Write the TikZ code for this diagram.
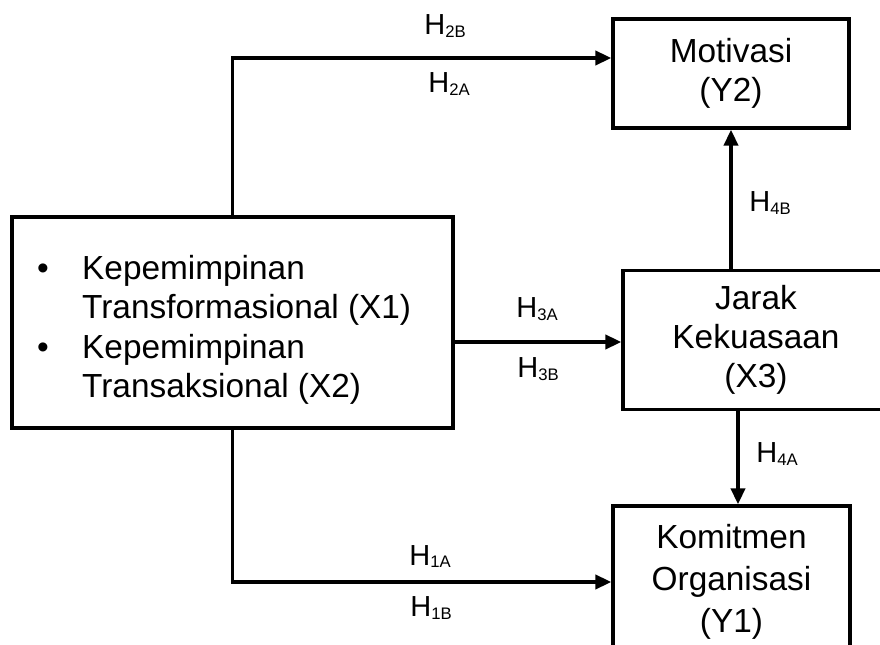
\documentclass[tikz,border=0pt]{standalone}
\usepackage{fontspec}
\setmainfont{Liberation Sans}
\usetikzlibrary{arrows.meta}
\newcommand\Hs[1]{H\raisebox{-1.2pt}{\fontsize{9.5}{10}\selectfont #1}}
\begin{document}
\begin{tikzpicture}[x=0.02cm, y=-0.02cm, line join=miter, >={Triangle[length=9pt,width=8pt]},
 box/.style={draw, line width=2pt, align=center, inner sep=0pt, font=\fontsize{19}{22}\selectfont},
 hlab/.style={font=\fontsize{16.5}{18}\selectfont, inner sep=0pt, anchor=base},
 conn/.style={->, line width=2pt}]
\clip (0,0) rectangle (880,645);
\node[box, minimum width=8.82cm, minimum height=4.22cm] (lead) at (232.5,322.5)
 {\raisebox{0pt}[\dimexpr\height+9pt][\depth]{\fontsize{19}{22.5}\selectfont\begin{tabular}{@{}l@{\hspace{19pt}}l@{\hspace{9.5pt}}}
 \textbullet & Kepemimpinan\\ & Transformasional (X1)\\
 \textbullet & Kepemimpinan\\ & Transaksional (X2)\end{tabular}}};
\node[box, minimum width=4.72cm, minimum height=2.18cm] (motiv) at (731,73.5) {Motivasi\\(Y2)};
\node[box, minimum width=5.32cm, minimum height=2.78cm] (jarak) at (756,340) {Jarak\\Kekuasaan\\(X3)};
\node[box, minimum width=4.74cm, minimum height=3.04cm, font=\fontsize{19}{24}\selectfont] (komit) at (731.5,582) {Komitmen\\Organisasi\\(Y1)};
\path (232.5,58) coordinate (ktop) (0,342) coordinate (j3) (738,0) coordinate (j4);
% connectors
\draw[conn] (lead.north) -- (ktop) -- (ktop -| motiv.west);
\draw[conn] (lead.south) |- (komit.west);
\draw[conn] (j3 -| lead.east) -- (j3 -| jarak.west);
\draw[conn] (motiv.south |- jarak.north) -- (motiv.south);
\draw[conn] (j4 |- jarak.south) -- (j4 |- komit.north);
% hypothesis labels
\foreach \t/\x/\y in {2B/445/35, 2A/449/93, 3A/537/318, 3B/538/378, 1A/430/565, 1B/431/617, 4B/770/212, 4A/777/463}
 \node[hlab] (h\t) at (\x,\y) {\Hs{\t}};
\end{tikzpicture}
\end{document}
